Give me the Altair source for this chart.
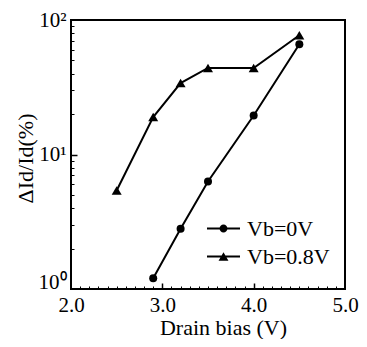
import altair as alt
import pandas as pd

# ---- data ----
series_names = ["Vb=0V", "Vb=0.8V"]
bias_0 = [2.9, 3.2, 3.5, 4.0, 4.5]
ratio_0 = [1.2, 2.8, 6.3, 19.5, 66]
bias_08 = [2.5, 2.9, 3.2, 3.5, 4.0, 4.5]
ratio_08 = [5.4, 19, 34, 44, 44, 77]
x_labels = [2.0, 3.0, 4.0, 5.0]
y_labels = [1, 10, 100]
x_major_ticks = [3.0, 4.0]
y_major_ticks = [10]
x_minor_ticks = [round(2 + 0.1 * i, 1) for i in range(1, 30) if i % 10]
y_minor_ticks = [m * d for d in (1, 10) for m in range(2, 10)]

df = pd.DataFrame({
    "bias": bias_0 + bias_08,
    "ratio": ratio_0 + ratio_08,
    "series": [series_names[0]] * len(bias_0) + [series_names[1]] * len(bias_08),
})

W, H = 274, 269
FONT = "'Liberation Serif', 'Times New Roman', serif"

xs = alt.Scale(domain=[2, 5], nice=False, zero=False)
ys = alt.Scale(type="log", domain=[1, 100], nice=False)

base = alt.Chart(df)

line = base.mark_line(color="black", strokeWidth=2).encode(
    x=alt.X("bias:Q", scale=xs, axis=alt.Axis(
        orient="bottom", values=x_labels, format=".1f", ticks=False, domain=False,
        grid=False, labelFont=FONT, labelFontSize=21, labelColor="black",
        labelPadding=5, labelFlush=False, title="Drain bias (V)", titleFont=FONT,
        titleFontSize=22, titleFontWeight="normal", titleColor="black",
        titleX=152, titleY=45, titleBaseline="alphabetic")),
    y=alt.Y("ratio:Q", scale=ys, axis=alt.Axis(
        orient="left", values=y_labels,
        labelExpr="datum.value == 1 ? '10⁰' : datum.value == 10 ? '10¹' : '10²'",
        labelOffset={"condition": {"test": "datum.value == 1", "value": -7}, "value": 0},
        ticks=False, domain=False, grid=False, labelFont=FONT, labelFontSize=21,
        labelColor="black", labelPadding=5, labelFlush=False, title="ΔId/Id(%)",
        titleFont=FONT, titleFontSize=22, titleFontWeight="normal",
        titleColor="black", titleX=-46, titleY=138, titleBaseline="middle")),
    detail="series:N",
)

circles = base.transform_filter(alt.datum.series == series_names[0]).mark_point(
    shape="circle", filled=True, color="black", size=64, opacity=1
).encode(
    x=alt.X("bias:Q", scale=xs, axis=alt.Axis(
        orient="top", offset=-H, values=x_minor_ticks, labels=False, domain=False,
        grid=False, tickSize=3, tickColor="black", tickWidth=1, title="")),
    y=alt.Y("ratio:Q", scale=ys, axis=alt.Axis(
        orient="right", offset=-W, values=y_minor_ticks, labels=False, domain=False,
        grid=False, tickSize=3, tickColor="black", tickWidth=1, title="")),
)

triangles = base.transform_filter(alt.datum.series == series_names[1]).mark_point(
    shape="triangle-up", filled=True, color="black", size=100, opacity=1
).encode(
    x=alt.X("bias:Q", scale=xs, axis=alt.Axis(
        orient="top", offset=-H, values=x_major_ticks, labels=False, domain=False,
        grid=False, tickSize=6, tickColor="black", tickWidth=1.5, title="")),
    y=alt.Y("ratio:Q", scale=ys, axis=alt.Axis(
        orient="right", offset=-W, values=y_major_ticks, labels=False, domain=False,
        grid=False, tickSize=6, tickColor="black", tickWidth=1.5, title="")),
)

# legend glyphs: line segment + marker, all as filled areas (unit box -1..1)
seg = "M-1,-0.06L-0.2,-0.06L-0.2,0.06L-1,0.06ZM0.2,-0.06L1,-0.06L1,0.06L0.2,0.06Z"
path_circle = seg + "M0.24,0A0.24,0.24,0,1,1,-0.24,0A0.24,0.24,0,1,1,0.24,0Z"
seg_t = "M-1,-0.06L-0.12,-0.06L-0.12,0.06L-1,0.06ZM0.12,-0.06L1,-0.06L1,0.06L0.12,0.06Z"
path_tri = seg_t + "M0,-0.26L0.3,0.26L-0.3,0.26Z"

legend_layer = base.transform_filter("false").mark_point(
    filled=True, color="black", opacity=1
).encode(
    x=alt.X("bias:Q", scale=xs, axis=None),
    y=alt.Y("ratio:Q", scale=ys, axis=None),
    shape=alt.Shape("series:N",
                    scale=alt.Scale(domain=series_names, range=[path_circle, path_tri]),
                    legend=alt.Legend(
                        title=None, orient="none", legendX=136, legendY=192,
                        symbolSize=1089, symbolStrokeWidth=0,
                        symbolFillColor="black",
                        labelFont=FONT, labelFontSize=22, labelColor="black",
                        labelOffset=7, rowPadding=0, padding=0,
                        labelBaseline="middle")),
)

chart = alt.layer(line, circles, triangles, legend_layer).resolve_axis(
    x="independent", y="independent"
).properties(
    width=W, height=H,
    padding={"left": 63, "top": 12, "right": 14, "bottom": 50},
    autosize=alt.AutoSizeParams(type="none"),
).configure_view(stroke="black", strokeWidth=2)

chart.save("out.html", embed_options={"renderer": "svg", "actions": False})
